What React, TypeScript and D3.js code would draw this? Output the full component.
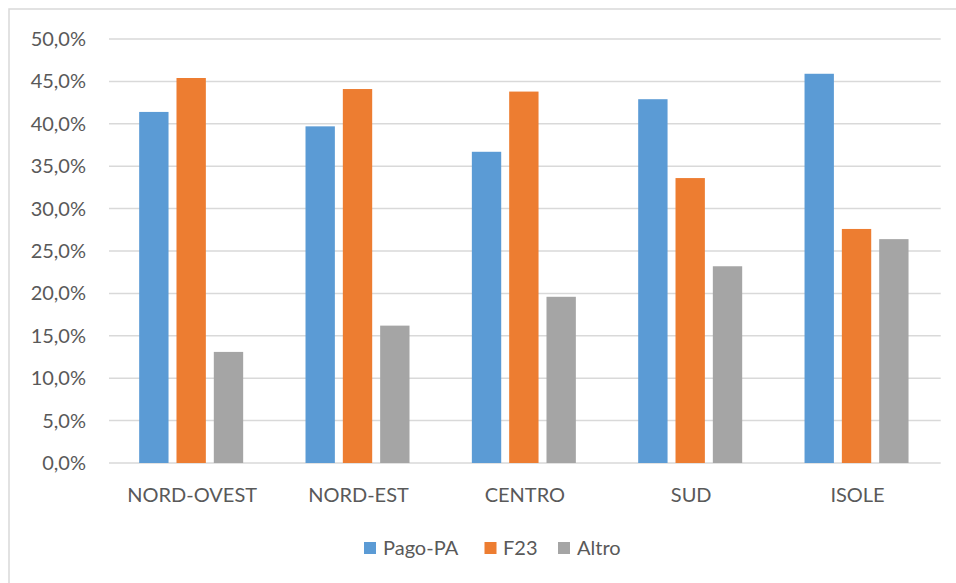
import React from "react";
import * as d3 from "d3";

const categories = ["NORD-OVEST", "NORD-EST", "CENTRO", "SUD", "ISOLE"];
const seriesNames = ["Pago-PA", "F23", "Altro"];
const pagoPA = [41.4, 39.7, 36.7, 42.9, 45.9];
const f23 = [45.4, 44.1, 43.8, 33.6, 27.6];
const altro = [13.1, 16.2, 19.6, 23.2, 26.4];
const colors = ["#5B9BD5", "#ED7D31", "#A5A5A5"];
const yTicks = [0, 5, 10, 15, 20, 25, 30, 35, 40, 45, 50];

const W = 956;
const H = 583;
const FONT = "Lato, 'Open Sans', sans-serif";
const TEXT = "#595959";
const GRID = "#D9D9D9";

export default function App() {
  const values = [pagoPA, f23, altro];
  const left = 109;
  const right = 940.7;
  const top = 39;
  const bottom = 463;

  const x0 = d3.scaleBand<string>().domain(categories).range([left, right]).padding(0);
  const groupW = 104;
  const x1 = d3
    .scaleBand<string>()
    .domain(seriesNames)
    .range([0, groupW])
    .paddingInner(8 / 37.5)
    .paddingOuter(0);
  const y = d3.scaleLinear().domain([0, 50]).range([bottom, top]);
  const fmt = (v: number) => d3.format(".1f")(v).replace(".", ",") + "%";

  const legendItems = [
    { name: seriesNames[0], sq: 364, tx: 383 },
    { name: seriesNames[1], sq: 484.5, tx: 503 },
    { name: seriesNames[2], sq: 558, tx: 577 },
  ];

  return (
    <svg width={W} height={H} style={{ position: "absolute", left: 0, top: 0, background: "#fff" }}>
      <rect x={0} y={0} width={W} height={H} fill="#fff" />
      <rect x={9} y={9} width={W + 20} height={H + 20} fill="none" stroke={GRID} strokeWidth={1.5} />
      {yTicks.map((t) => (
        <g key={t}>
          <line x1={left} x2={right} y1={y(t)} y2={y(t)} stroke={GRID} strokeWidth={1.5} />
          <text
            x={86}
            y={y(t) + 7}
            textAnchor="end"
            fontFamily={FONT}
            fontSize={20}
            fill={TEXT}
          >
            {fmt(t)}
          </text>
        </g>
      ))}
      {categories.map((c, i) => {
        const cx = (x0(c) as number) + x0.bandwidth() / 2;
        const g0 = cx - groupW / 2 - 1;
        return (
          <g key={c}>
            {seriesNames.map((s, j) => {
              const v = values[j][i];
              return (
                <rect
                  key={s}
                  x={g0 + (x1(s) as number)}
                  y={y(v)}
                  width={x1.bandwidth()}
                  height={y(0) - y(v)}
                  fill={colors[j]}
                />
              );
            })}
            <text
              x={cx}
              y={502}
              textAnchor="middle"
              fontFamily={FONT}
              fontSize={20}
              fill={TEXT}
            >
              {c}
            </text>
          </g>
        );
      })}
      {legendItems.map((l, j) => (
        <g key={l.name}>
          <rect x={l.sq} y={542} width={12} height={12} fill={colors[j]} />
          <text x={l.tx} y={555} fontFamily={FONT} fontSize={20} fill={TEXT}>
            {l.name}
          </text>
        </g>
      ))}
    </svg>
  );
}
